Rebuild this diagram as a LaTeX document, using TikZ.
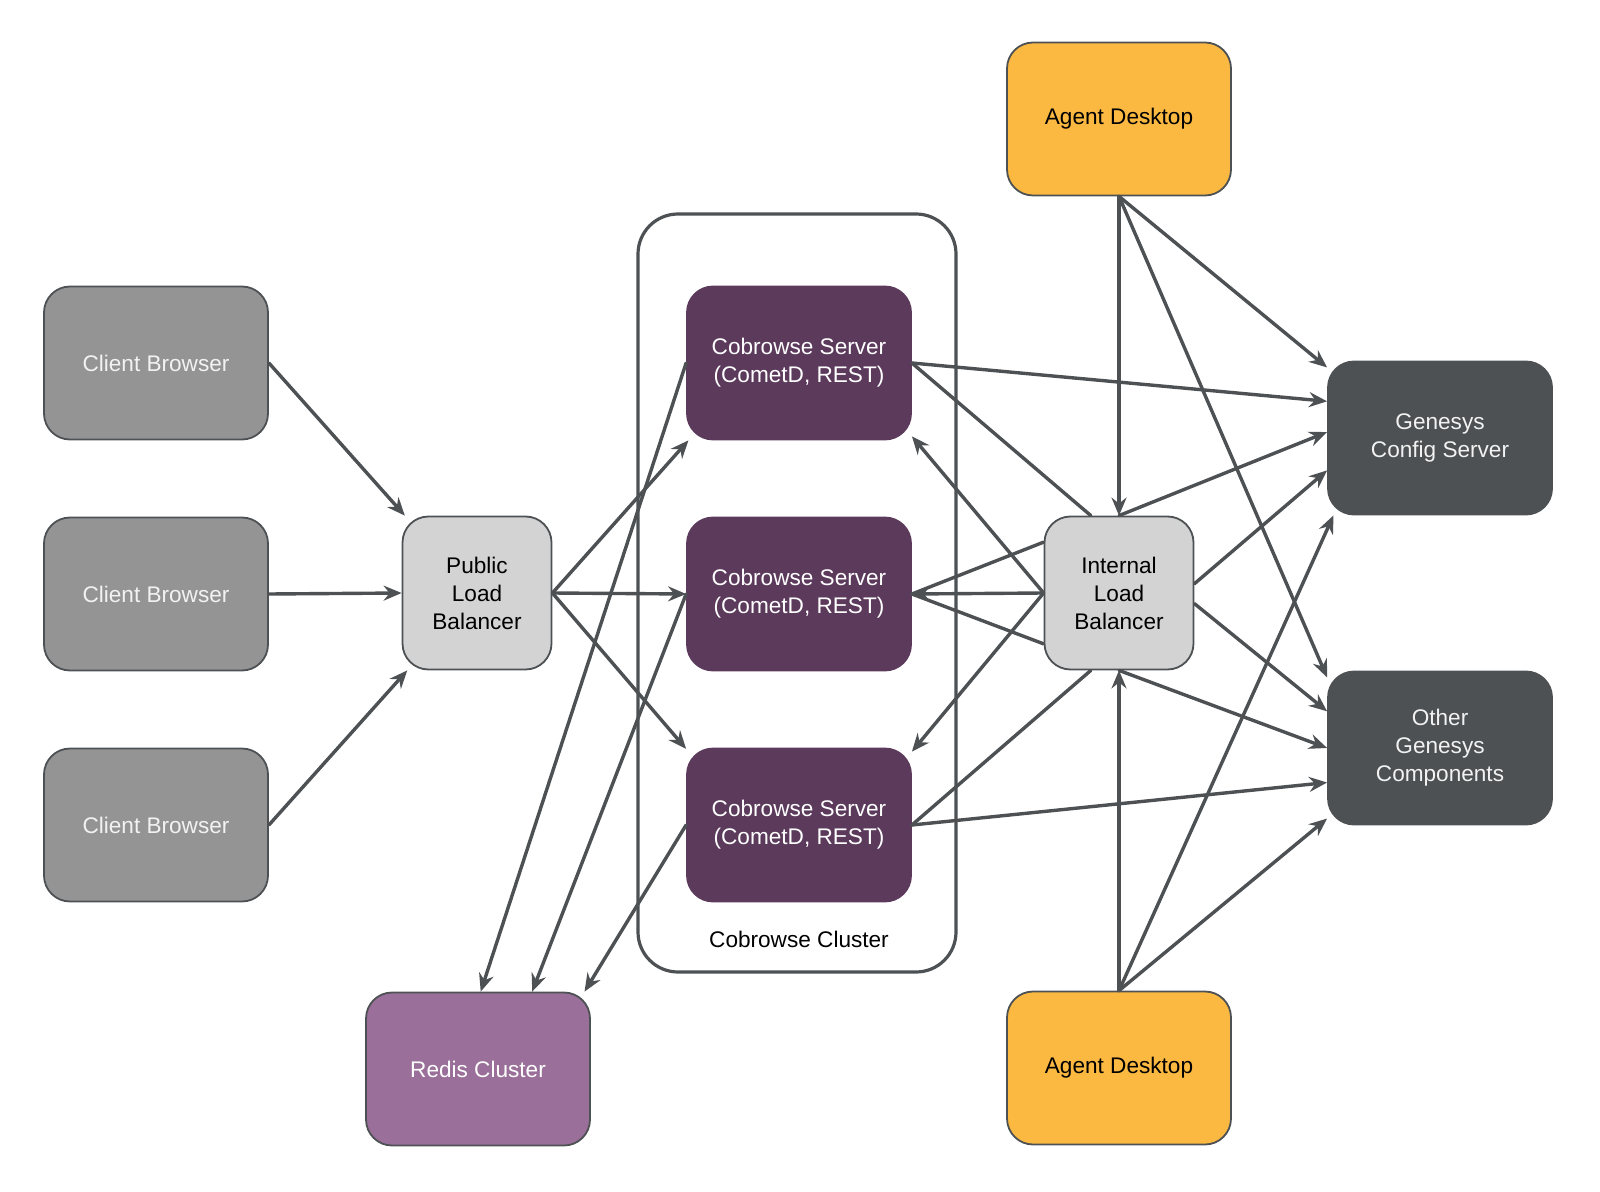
\documentclass[tikz,border=0pt]{standalone}
\usepackage{fontspec}
\setmainfont{Liberation Sans}
\usetikzlibrary{arrows.meta}
\definecolor{linegray}{HTML}{4D5154}
\definecolor{cbgray}{HTML}{949494}
\definecolor{cbtext}{HTML}{F2F2F2}
\definecolor{lbgray}{HTML}{D3D3D3}
\definecolor{cspurple}{HTML}{5C3A5C}
\definecolor{redispurple}{HTML}{9A6F99}
\definecolor{agentyellow}{HTML}{FBB941}
\definecolor{gendark}{HTML}{4D5154}
\begin{document}
\begin{tikzpicture}[x=0.5pt,y=-0.5pt, font=\fontsize{11.3}{14}\selectfont, line join=round, line cap=round,
    >={Stealth[length=9pt,width=7.5pt,inset=3pt]},
    box/.style={draw=linegray, line width=0.9pt, rounded corners=13pt, minimum width=112pt, minimum height=76.5pt, align=center, inner sep=2pt},
    lbbox/.style={box, fill=lbgray, minimum width=74.5pt},
    conn/.style={draw=linegray, line width=1.7pt}]
    \useasboundingbox (0,0) rectangle (1600,1192);
    % cluster frame
    \node[draw=linegray, line width=1.6pt, rounded corners=20pt, minimum width=159pt, minimum height=379pt] (cluster) at (797,593) {};
    \node (clusterlabel) at (799,939) {Cobrowse Cluster};
    \foreach \i/\y in {1/363,2/594,3/825} {
        \node[box, fill=cbgray, text=cbtext] (cb\i) at (156,\y) {Client Browser};
        \node[box, fill=cspurple, draw=cspurple, text=white] (cs\i) at (799,\y) {Cobrowse Server\\(CometD, REST)};
    }
    \node[lbbox] (plb) at (477,593) {Public\\Load\\Balancer};
    \node[lbbox] (ilb) at (1119,593) {Internal\\Load\\Balancer};
    \node[box, fill=redispurple, text=white] (redis) at (478,1069) {Redis Cluster};
    \node[box, fill=agentyellow] (ad1) at (1119,119) {Agent Desktop};
    \node[box, fill=agentyellow] (ad2) at (1119,1068) {Agent Desktop};
    \node[box, fill=gendark, draw=gendark, text=cbtext] (gcs) at (1440,438) {Genesys\\Config Server};
    \node[box, fill=gendark, draw=gendark, text=cbtext] (ogc) at (1440,748) {Other\\Genesys\\Components};
    % client side
    \draw[conn,->] (cb1.east) -- (plb.133);
    \draw[conn,->] (cb2.east) -- (plb.west);
    \draw[conn,->] (cb3.east) -- (plb.228);
    \foreach \t in {cs1.215,cs2.west,cs3.146} \draw[conn,->] (plb.east) -- (\t);
    \draw[conn,->] (cs1.west) -- (redis.88);
    \draw[conn,->] (cs2.west) -- (redis.55);
    \draw[conn,->] (cs3.west) -- (redis.36);
    % internal side
    \draw[conn,->] (cs1.east) -- (gcs.162);
    \draw[conn] (cs1.east) -- (ilb.110);
    \draw[conn] (cs2.east) -- (ilb.146);
    \draw[conn] (cs2.east) -- (ilb.214);
    \draw[conn] (cs3.east) -- (ilb.250);
    \foreach \t in {cs1.-33,cs2.east,cs3.33} \draw[conn,->] (ilb.west) -- (\t);
    \draw[conn,->] (cs3.east) -- (ogc.197);
    \draw[conn,->] (ilb.north) -- (gcs.177);
    \draw[conn,->] (ilb.7) -- (gcs.196);
    \draw[conn,->] (ilb.-8) -- (ogc.162);
    \draw[conn,->] (ilb.south) -- (ogc.west);
    % agent desktops
    \draw[conn,->] (ad1.south) -- (ilb.north);
    \draw[conn,->] (ad1.south) -- (gcs.148);
    \draw[conn,->] (ad1.south) -- (ogc.148);
    \draw[conn,->] (ad2.north) -- (ilb.south);
    \draw[conn,->] (ad2.north) -- (gcs.216);
    \draw[conn,->] (ad2.north) -- (ogc.212);
\end{tikzpicture}
\end{document}
